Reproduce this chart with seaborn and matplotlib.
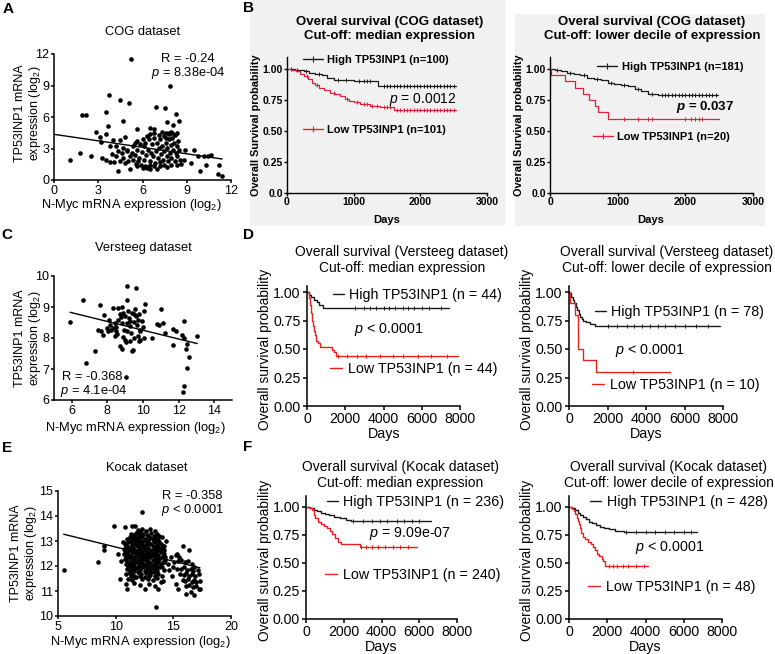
import numpy as np
import pandas as pd
import matplotlib
matplotlib.use("Agg")
import matplotlib.pyplot as plt
import seaborn as sns
from matplotlib.lines import Line2D
from matplotlib.legend import Legend
from matplotlib.patches import Rectangle

# ---------------- data: scatter panels ----------------
cog_x = [5.22, 7.85, 3.71, 4.47, 5.1, 6.9, 7.53, 1.9, 2.17, 3.5, 4.65, 8.24, 3.69, 2.86, 3.14, 3.5, 5.66, 6.53,
         6.8, 7.63, 8.1, 8.49, 7.56, 7.79, 8.0, 3.21, 4.0, 4.47, 4.81, 3.78, 4.2, 4.97, 1.79, 2.52, 1.08, 3.25,
         3.55, 3.78, 4.05, 4.35, 5.15, 4.81, 5.66, 6.3, 6.53, 8.86, 9.5, 9.73, 9.27, 9.91, 10.33, 10.19, 10.47,
         10.65, 11.22, 11.1, 11.38, 8.36, 8.63, 8.8,
         4.92, 5.27, 5.5, 5.61, 5.79, 5.95, 6.07, 6.11, 6.25, 6.34, 6.41, 6.48, 6.57, 6.64, 6.71, 6.76, 6.87,
         6.94, 6.98, 7.03, 7.1, 7.17, 7.21, 7.26, 7.33, 7.4, 7.44, 7.49, 7.56, 7.63, 7.67, 7.72, 7.79, 7.85,
         7.9, 7.95, 8.01, 8.08, 8.13, 8.18, 8.24, 8.31, 8.36, 8.43, 8.47, 8.54, 5.38, 5.56, 5.72, 5.89, 6.02,
         6.18, 6.34, 6.53, 6.76, 6.98, 7.21, 7.44, 7.67, 7.9, 5.15, 5.04, 5.34, 5.5, 5.66, 5.84, 6.02, 6.18,
         6.3, 6.53, 6.8, 7.1, 7.33, 7.56, 7.79, 7.95, 8.18, 8.36, 4.58, 4.69, 4.47, 4.65, 4.19, 4.35, 3.96]
cog_y = [11.5, 8.94, 8.06, 7.58, 7.35, 7.0, 6.84, 6.23, 6.19, 6.45, 5.65, 6.29, 5.1, 4.58, 4.13, 4.35, 4.9, 4.94,
         4.9, 5.48, 5.2, 5.65, 4.5, 4.35, 4.45, 3.6, 3.8, 3.77, 4.13, 3.2, 3.2, 2.84, 2.58, 2.26, 1.94, 2.1,
         1.94, 1.68, 1.68, 0.9, 1.03, 1.61, 1.29, 1.13, 1.45, 2.84, 2.84, 2.26, 1.61, 0.9, 1.45, 2.32, 2.32,
         2.42, 1.45, 0.55, 0.39, 1.45, 1.55, 1.94,
         2.74, 2.58, 2.42, 2.9, 2.1, 2.65, 3.23, 1.94, 2.42, 2.9, 3.87, 1.77, 2.58, 3.39, 2.26, 4.03, 1.61,
         2.74, 3.55, 2.1, 3.06, 1.29, 3.87, 2.52, 3.23, 1.94, 4.19, 2.74, 3.55, 2.26, 3.06, 1.77, 3.87, 2.58,
         3.29, 2.1, 4.03, 2.9, 3.55, 1.77, 2.58, 3.23, 2.26, 3.71, 2.9, 1.94, 1.94, 1.55, 1.77, 1.45, 1.13,
         1.35, 1.23, 1.03, 1.29, 1.03, 1.68, 1.45, 1.23, 1.45, 2.26, 1.77, 3.23, 3.55, 3.71, 3.39, 3.87, 3.55,
         4.19, 4.35, 4.45, 4.26, 4.58, 4.03, 4.45, 4.58, 4.26, 4.45, 2.58, 2.1, 1.77, 3.06, 2.26, 2.74, 2.52]
cog_fit_x = [0.0, 11.4]
cog_fit_y = [4.35, 2.0]

versteeg_x = [5.89, 6.61, 6.8, 7.28, 7.56, 7.79, 7.47, 7.66, 7.75, 7.98, 8.1, 8.17, 8.04, 8.23, 8.32, 8.42, 8.48,
              8.51, 8.61, 8.7, 8.74, 8.8, 8.61, 8.8, 8.86, 8.93, 8.99, 9.05, 9.12, 9.18, 9.12, 9.62, 8.99, 9.24,
              9.28, 9.31, 9.37, 9.43, 9.47, 9.5, 9.56, 9.62, 9.66, 9.7, 9.75, 9.81, 9.7, 9.85, 9.94, 10.0, 10.08,
              10.13, 10.04, 10.51, 10.8, 10.9, 10.99, 11.14, 11.22, 11.66, 11.85, 11.71, 12.19, 12.29, 12.32,
              12.48, 12.42, 12.61, 12.48, 12.29, 12.23, 13.03, 9.05, 8.7, 8.84, 8.29, 8.42, 8.55, 9.28, 9.09,
              9.37, 8.9, 9.75, 9.47, 9.28, 9.81, 9.09]
versteeg_y = [8.52, 9.22, 7.19, 7.57, 9.05, 8.74, 8.27, 8.22, 8.11, 8.32, 8.57, 8.43, 8.22, 8.25, 8.97, 8.49, 8.36,
              8.22, 8.97, 8.79, 8.68, 9.01, 8.59, 8.49, 8.03, 8.27, 7.95, 7.86, 9.24, 8.86, 9.68, 9.62, 8.7, 8.65,
              8.38, 8.16, 7.57, 7.62, 8.76, 8.51, 8.94, 8.7, 8.43, 8.08, 7.89, 8.22, 8.59, 8.27, 8.54, 8.36, 8.86,
              9.11, 8.0, 8.0, 8.45, 8.43, 8.94, 8.49, 8.16, 8.29, 8.21, 7.78, 8.11, 8.56, 8.0,
              7.82, 7.65, 7.38, 7.03, 6.45, 6.27, 8.08, 6.74, 7.73, 7.64, 8.32, 8.05, 8.14, 8.54, 8.49,
              8.81, 8.81, 8.76, 8.0, 7.89, 7.95, 8.22]
versteeg_fit_x = [5.9, 13.05]
versteeg_fit_y = [8.83, 7.82]

kocak_xy = [
    (11.9, 13.45), (12.3, 13.5), (12.6, 13.42), (13.0, 13.48), (13.4, 13.4), (12.1, 13.38),
    (11.3, 13.3), (11.6, 13.25), (11.8, 13.32), (12.0, 13.28), (12.4, 13.3), (12.7, 13.25), (13.1, 13.32),
    (13.3, 13.22), (13.6, 13.3), (13.8, 13.2),
    (11.5, 13.2), (11.9, 13.18), (12.3, 13.2), (12.9, 13.18), (13.4, 13.2),
    (11.0, 13.1), (11.2, 13.15), (11.5, 13.08), (11.7, 13.12), (11.9, 13.05), (12.2, 13.15), (12.5, 13.1),
    (12.8, 13.05), (13.0, 13.12), (13.2, 13.08), (13.5, 13.1), (13.7, 13.05), (14.0, 13.15),
    (11.3, 13.0), (11.7, 12.98), (12.1, 13.0), (12.4, 13.02), (12.7, 12.98), (13.3, 13.0), (13.8, 12.98),
    (10.8, 12.9), (11.1, 12.95), (11.4, 12.88), (11.6, 12.92), (11.8, 12.85), (12.0, 12.95), (12.3, 12.9),
    (12.6, 12.85), (12.9, 12.92), (13.1, 12.88), (13.4, 12.95), (13.6, 12.85), (13.9, 12.9), (14.1, 12.82),
    (11.0, 12.8), (11.3, 12.78), (11.9, 12.8), (12.1, 12.82), (12.4, 12.78), (12.7, 12.8), (13.2, 12.82),
    (13.7, 12.78), (14.2, 12.8),
    (10.7, 12.7), (10.9, 12.75), (11.2, 12.68), (11.5, 12.72), (11.7, 12.65), (12.0, 12.7), (12.2, 12.75),
    (12.5, 12.68), (12.8, 12.72), (13.0, 12.65), (13.3, 12.7), (13.5, 12.75), (13.8, 12.68), (14.0, 12.72),
    (14.2, 12.65),
    (10.8, 12.6), (11.1, 12.62), (11.4, 12.58), (11.9, 12.6), (12.3, 12.62), (12.7, 12.58), (13.1, 12.6),
    (13.6, 12.62), (14.1, 12.58),
    (10.7, 12.5), (11.0, 12.52), (11.3, 12.45), (11.5, 12.55), (11.8, 12.48), (12.1, 12.52), (12.4, 12.45),
    (12.6, 12.55), (12.9, 12.5), (13.2, 12.48), (13.4, 12.52), (13.7, 12.45), (13.9, 12.55), (14.2, 12.48),
    (10.9, 12.4), (11.2, 12.42), (11.7, 12.38), (12.0, 12.4), (12.5, 12.42), (12.8, 12.38), (13.3, 12.4),
    (13.6, 12.42), (14.3, 12.38),
    (10.8, 12.3), (11.1, 12.35), (11.3, 12.28), (11.6, 12.32), (11.9, 12.25), (12.2, 12.35), (12.4, 12.3),
    (12.7, 12.28), (13.0, 12.35), (13.2, 12.25), (13.5, 12.32), (13.8, 12.28), (14.0, 12.35), (14.3, 12.25),
    (11.0, 12.2), (11.5, 12.22), (11.8, 12.18), (12.1, 12.2), (12.6, 12.22), (12.9, 12.18), (13.4, 12.2),
    (13.7, 12.22), (14.2, 12.18),
    (10.9, 12.1), (11.2, 12.12), (11.4, 12.05), (11.7, 12.15), (12.0, 12.08), (12.3, 12.12), (12.5, 12.05),
    (12.8, 12.15), (13.1, 12.1), (13.3, 12.05), (13.6, 12.12), (13.9, 12.08), (14.1, 12.15),
    (11.1, 12.0), (11.6, 12.02), (11.9, 11.98), (12.2, 12.0), (12.7, 12.02), (13.0, 11.98), (13.5, 12.0),
    (14.0, 11.98),
    (11.0, 11.9), (11.3, 11.95), (11.5, 11.88), (11.8, 11.92), (12.1, 11.85), (12.4, 11.95), (12.7, 11.9),
    (12.9, 11.85), (13.2, 11.92), (13.5, 11.88), (13.8, 11.95), (14.2, 11.85),
    (11.2, 11.8), (11.6, 11.82), (12.0, 11.78), (12.5, 11.8), (12.8, 11.82), (13.1, 11.78), (13.6, 11.8),
    (10.9, 11.7), (11.2, 11.72), (11.5, 11.65), (11.9, 11.75), (12.2, 11.68), (12.6, 11.72), (13.0, 11.65),
    (13.3, 11.75), (13.7, 11.7), (14.0, 11.62),
    (11.3, 11.6), (11.7, 11.58), (12.1, 11.62), (12.5, 11.58), (12.9, 11.6), (13.4, 11.62),
    (11.1, 11.5), (11.4, 11.45), (11.8, 11.55), (12.3, 11.48), (12.8, 11.5), (13.2, 11.45), (13.6, 11.52),
    (14.1, 11.4),
    (10.9, 11.3), (11.6, 11.32), (12.1, 11.25), (12.9, 11.3), (13.4, 11.22), (13.9, 11.35),
    (5.5, 11.85), (8.5, 12.15), (9.0, 12.8), (9.0, 12.65), (9.85, 13.6), (10.2, 12.5), (10.85, 13.55),
    (11.4, 13.6), (11.65, 13.6), (12.3, 14.15), (13.5, 10.38), (10.4, 11.5), (10.6, 12.95), (10.5, 12.2),
    (11.0, 11.1), (12.5, 11.1), (13.7, 11.1), (14.5, 12.1), (14.6, 11.85), (14.4, 13.0),
    (14.8, 12.35), (15.2, 12.45), (15.5, 12.35), (15.8, 12.8), (16.4, 12.65), (15.1, 12.15), (15.4, 12.2),
    (15.7, 12.25), (16.0, 12.15), (16.3, 12.2), (16.6, 12.1), (15.0, 11.95), (15.3, 11.9), (15.9, 11.95),
    (16.2, 11.85), (16.5, 11.9), (16.8, 11.95), (17.1, 11.85), (15.6, 11.7), (15.9, 11.65), (16.1, 11.72),
    (16.4, 11.6), (16.6, 11.7), (16.9, 11.62), (17.2, 11.68), (15.8, 11.45), (16.0, 11.4), (16.3, 11.48),
    (16.6, 11.38), (16.8, 11.45), (17.0, 11.35), (17.3, 11.42), (16.1, 11.2), (16.4, 11.25), (16.7, 11.15),
    (17.0, 11.2), (17.2, 11.1), (15.4, 11.07), (16.1, 10.87), (16.8, 10.83), (17.35, 11.07), (16.5, 10.95),
    (15.7, 11.9), (16.7, 11.8), (15.3, 12.5), (14.9, 11.6), (15.2, 11.3),
]
kocak_fit_x = [5.5, 17.3]
kocak_fit_y = [13.27, 11.93]

# ---------------- data: survival curves (event times, survival after event) ----------------
b1_high_t = [0, 120, 250, 330, 420, 520, 600, 700, 1000, 1370]
b1_high_s = [1.0, 0.99, 0.98, 0.97, 0.96, 0.95, 0.93, 0.91, 0.90, 0.86]
b1_high_end = 2530
b1_high_cens = [60, 150, 280, 480, 760, 880, 1080, 1150, 1200, 1250, 1450, 1500, 1550, 1600, 1650, 1700,
                1750, 1800, 1850, 1900, 1950, 2000, 2050, 2100, 2150, 2200, 2250, 2300, 2350, 2400, 2450, 2500]
b1_low_t = [0, 60, 130, 200, 260, 320, 370, 420, 480, 560, 640, 720, 800, 870, 930, 1000, 1100, 1250, 1400, 1600]
b1_low_s = [1.0, 0.99, 0.98, 0.96, 0.94, 0.92, 0.89, 0.87, 0.85, 0.83, 0.81, 0.80, 0.78, 0.76, 0.74, 0.73,
            0.72, 0.70, 0.69, 0.67]
b1_low_end = 2530
b1_low_cens = [300, 450, 700, 900, 1050, 1150, 1200, 1280, 1350, 1450, 1500, 1550, 1650, 1700, 1750, 1800,
               1850, 1900, 1950, 2000, 2050, 2100, 2150, 2200, 2250, 2300, 2350, 2400, 2450, 2500]

b2_high_t = [0, 80, 160, 250, 350, 450, 550, 650, 750, 850, 950, 1050, 1150, 1250, 1350, 1450, 1600]
b2_high_s = [1.0, 0.99, 0.98, 0.97, 0.96, 0.95, 0.93, 0.92, 0.91, 0.89, 0.88, 0.87, 0.86, 0.84, 0.82, 0.80, 0.79]
b2_high_end = 2480
b2_high_cens = [100, 300, 500, 700, 900, 1100, 1300, 1500, 1650, 1700, 1750, 1800, 1850, 1900, 1950, 2000,
                2050, 2100, 2150, 2200, 2250, 2300, 2350, 2400, 2450]
b2_low_t = [0, 10, 220, 370, 490, 570, 665, 715, 860]
b2_low_s = [1.0, 0.95, 0.90, 0.85, 0.80, 0.75, 0.70, 0.65, 0.60]
b2_low_end = 2500
b2_low_cens = [1100, 1300, 1450, 1500, 2000, 2080, 2150, 2200, 2250]

d1_high_t = [0, 100, 200, 350, 500, 650, 850]
d1_high_s = [1.0, 0.977, 0.955, 0.932, 0.909, 0.886, 0.864]
d1_high_end = 7450
d1_high_cens = [2500, 3000, 3300, 3600, 4000, 4300, 4600, 5000, 5300, 5600, 6000, 6400, 7000]
d1_low_t = [0, 80, 150, 200, 250, 300, 350, 400, 470, 560, 680, 1290, 1400, 1500]
d1_low_s = [1.0, 0.95, 0.89, 0.82, 0.75, 0.70, 0.66, 0.62, 0.57, 0.55, 0.52, 0.49, 0.47, 0.44]
d1_low_end = 7900
d1_low_cens = [1600, 2100, 2600, 3100, 3800, 4500, 5000, 5800, 6500, 7300]

d2_high_t = [0, 50, 120, 200, 280, 350, 420, 500, 580, 660, 750, 900, 1100, 1350]
d2_high_s = [1.0, 0.99, 0.96, 0.93, 0.90, 0.87, 0.84, 0.81, 0.78, 0.76, 0.75, 0.74, 0.72, 0.70]
d2_high_end = 7840
d2_high_cens = [2000, 2500, 3000, 3400, 3800, 4200, 4600, 5000, 5500, 6000, 6600, 7200]
d2_low_t = [0, 60, 300, 450, 460, 740, 1400]
d2_low_s = [1.0, 0.9, 0.8, 0.6, 0.5, 0.4, 0.3]
d2_low_end = 5250
d2_low_cens = [3300]

f1_high_t = [0, 200, 400, 600, 800, 1000, 1200, 1500, 1800, 2100, 2400]
f1_high_s = [1.0, 0.99, 0.975, 0.96, 0.95, 0.94, 0.93, 0.915, 0.90, 0.885, 0.875]
f1_high_end = 6600
f1_high_cens = [2500, 3000, 3500, 3900, 4300, 4800, 5200, 5600, 6000]
f1_low_t = [0, 150, 300, 400, 500, 650, 800, 950, 1100, 1250, 1400, 1550, 1700, 1850, 2850]
f1_low_s = [1.0, 0.99, 0.97, 0.93, 0.90, 0.87, 0.85, 0.83, 0.81, 0.79, 0.76, 0.72, 0.69, 0.67, 0.645]
f1_low_end = 5860
f1_low_cens = [2900, 3200, 3500, 3800, 4200, 4600, 5000, 5400]

f2_high_t = [0, 150, 300, 450, 600, 750, 900, 1050, 1200, 1400, 1600, 1850, 2100, 2400, 2850]
f2_high_s = [1.0, 0.99, 0.97, 0.95, 0.93, 0.91, 0.89, 0.87, 0.855, 0.84, 0.825, 0.81, 0.80, 0.79, 0.78]
f2_high_end = 6680
f2_high_cens = [3000, 3500, 4000, 4500, 5000, 5500, 6000, 6400]
f2_low_t = [0, 150, 250, 330, 400, 450, 500, 560, 640, 720, 850, 1000, 1150, 1280, 1350, 1450, 1550, 1700,
            1800, 1880]
f2_low_s = [1.0, 0.98, 0.96, 0.94, 0.90, 0.875, 0.85, 0.81, 0.77, 0.73, 0.71, 0.69, 0.67, 0.645, 0.62, 0.58,
            0.56, 0.54, 0.52, 0.47]
f2_low_end = 4150
f2_low_cens = [2100, 2300, 2500, 2800, 3100, 3500, 3900]

# ---------------- style ----------------
sns.set_theme(style="ticks")
plt.rcParams["font.family"] = ["Liberation Sans", "DejaVu Sans"]
plt.rcParams.update({
    "mathtext.fontset": "custom",
    "mathtext.rm": "Liberation Sans",
    "mathtext.it": "Liberation Sans:italic",
    "mathtext.bf": "Liberation Sans:bold",
    "mathtext.default": "regular",
    "axes.edgecolor": "black",
    "xtick.color": "black",
    "ytick.color": "black",
    "text.color": "black",
})
try:
    plt.rcParams["mathtext.bfit"] = "Liberation Sans:bold:italic"
    PB = r"$\mathbfit{p}$"
except KeyError:
    PB = r"$\mathit{p}$"

RED_B = "#e0203c"
RED = "#e8201e"
BLK = "#1a1a1a"

W, H = 775, 654
fig = plt.figure(figsize=(W / 100, H / 100), dpi=100)


def rect(l, t, r, b):
    return [l / W, 1 - b / H, (r - l) / W, (b - t) / H]


def ftext(x, y, s, **kw):
    kw.setdefault("ha", "center")
    kw.setdefault("va", "center")
    return fig.text(x / W, 1 - y / H, s, **kw)


# grey backgrounds of panel B
fig.add_artist(Rectangle((250 / W, 1 - 226 / H), 255 / W, 226 / H, transform=fig.transFigure,
                         facecolor="#f1f1f1", edgecolor="none", zorder=-5))
fig.add_artist(Rectangle((515 / W, 1 - 226 / H), 250 / W, 212 / H, transform=fig.transFigure,
                         facecolor="#f1f1f1", edgecolor="none", zorder=-5))


def style_axes(ax, fs, bold=False, lw=1.1, tl=3, pad=1.5):
    ax.set_facecolor("none")
    for sp in ["top", "right"]:
        ax.spines[sp].set_visible(False)
    for sp in ["left", "bottom"]:
        ax.spines[sp].set_linewidth(lw)
        ax.spines[sp].set_color("black")
    ax.tick_params(labelsize=fs, length=tl, width=lw, pad=pad, direction="out")
    if bold:
        for lab in ax.get_xticklabels() + ax.get_yticklabels():
            lab.set_fontweight("bold")
    ax.set_xlabel("")
    ax.set_ylabel("")


def scatter_panel(r, xs, ys, fx, fy, xlim, ylim, xticks, yticks):
    ax = fig.add_axes(rect(*r))
    df = pd.DataFrame({"x": xs, "y": ys})
    sns.scatterplot(data=df, x="x", y="y", ax=ax, s=11, color="black", linewidth=0, legend=False,
                    clip_on=False, zorder=3)
    ax.plot(fx, fy, color="black", lw=1.0, zorder=4)
    ax.set_xlim(xlim)
    ax.set_ylim(ylim)
    ax.set_xticks(xticks)
    ax.set_yticks(yticks)
    style_axes(ax, 9.0, tl=2.5, pad=1.0)
    return ax


def two_line_ylabel(xc1, xc2, yc):
    ftext(xc1, yc, "TP53INP1 mRNA", fontsize=9.0, rotation=90)
    ftext(xc2, yc, "expression (log$_2$)", fontsize=9.0, rotation=90)


# ---------------- A ----------------
scatter_panel((54, 54, 231, 180), cog_x, cog_y, cog_fit_x, cog_fit_y, (0, 12), (0, 12),
              [0, 3, 6, 9, 12], [0, 3, 6, 9, 12])
ftext(143, 32, "COG dataset", fontsize=9.3)
ftext(188, 59, "R = -0.24", fontsize=9.3)
ftext(188, 73, r"$\mathit{p}$ = 8.38e-04", fontsize=9.3)
two_line_ylabel(20.5, 35, 113)
ftext(131, 205, "N-Myc mRNA expression (log$_2$)", fontsize=9.3)

# ---------------- C ----------------
scatter_panel((54, 276, 232, 400), versteeg_x, versteeg_y, versteeg_fit_x, versteeg_fit_y, (5, 15), (6, 10),
              [6, 8, 10, 12, 14], [6, 7, 8, 9, 10])
ftext(143, 248, "Versteeg dataset", fontsize=9.3)
ftext(62, 377, "R = -0.368", fontsize=9.3, ha="left")
ftext(60, 391, r"$\mathit{p}$ = 4.1e-04", fontsize=9.3, ha="left")
two_line_ylabel(20.5, 35, 338)
ftext(135, 428, "N-Myc mRNA expression (log$_2$)", fontsize=9.3)

# ---------------- E ----------------
kx = [p[0] for p in kocak_xy]
ky = [p[1] for p in kocak_xy]
scatter_panel((58, 491, 231, 616), kx, ky, kocak_fit_x, kocak_fit_y, (5, 20), (10, 15),
              [5, 10, 15, 20], [10, 11, 12, 13, 14, 15])
ftext(147, 468, "Kocak dataset", fontsize=9.3)
ftext(192, 496, "R = -0.358", fontsize=9.3)
ftext(192, 510, r"$\mathit{p}$ < 0.0001", fontsize=9.3)
two_line_ylabel(16.5, 31, 553)
ftext(140, 642, "N-Myc mRNA expression (log$_2$)", fontsize=9.3)


# ---------------- survival helpers ----------------
def km(ax, t, s, t_end, cens, color, lw, tick_ms):
    df = pd.DataFrame({"t": list(t) + [t_end], "s": list(s) + [s[-1]]})
    sns.lineplot(data=df, x="t", y="s", ax=ax, drawstyle="steps-post", estimator=None, sort=False,
                 color=color, lw=lw, legend=False)
    idx = np.searchsorted(np.asarray(t), np.asarray(cens), side="right") - 1
    cy = np.asarray(s)[idx]
    ax.plot(cens, cy, ls="none", marker="|", ms=tick_ms, mew=0.7, color=color)


def surv_axes(r, xmax, xticks, ytop, ylabs):
    ax = fig.add_axes(rect(*r))
    ax.set_xlim(0, xmax)
    ax.set_ylim(0, ytop)
    ax.set_xticks(xticks)
    ax.set_xticklabels([str(v) for v in xticks])
    ax.set_yticks([0, 0.25, 0.5, 0.75, 1.0])
    ax.set_yticklabels(ylabs)
    return ax


def add_leg(ax, label, color, x, y, fs, bold, hl, tick):
    h = Line2D([], [], color=color, lw=1.0, marker="|" if tick else None, ms=4, mew=0.8)
    leg = Legend(ax, [h], [label], loc="center left", bbox_to_anchor=(x, y), frameon=False,
                 borderpad=0, borderaxespad=0, handlelength=hl, handletextpad=0.4, numpoints=1,
                 prop={"size": fs, "weight": "bold" if bold else "normal"})
    ax.add_artist(leg)


YB = ["0.0", "0.25", "0.50", "0.75", "1.00"]
YD = ["0.00", "0.25", "0.50", "0.75", "1.00"]

# ---------------- B (left) ----------------
ax = surv_axes((287, 56.6, 487, 193), 3000, [0, 1000, 2000, 3000], 1.1, YB)
km(ax, b1_high_t, b1_high_s, b1_high_end, b1_high_cens, BLK, 0.9, 3.5)
km(ax, b1_low_t, b1_low_s, b1_low_end, b1_low_cens, RED_B, 0.9, 3.5)
style_axes(ax, 7.5, bold=True, lw=1.0, tl=2.5, pad=0.6)
add_leg(ax, "High TP53INP1 (n=100)", BLK, 0.08, 0.975, 8, True, 1.8, True)
add_leg(ax, "Low TP53INP1 (n=101)", RED_B, 0.08, 0.46, 8, True, 1.8, True)
ftext(423, 100, r"$\mathit{p}$ = 0.0012", fontsize=10)
ftext(390, 22, "Overal survival (COG dataset)", fontsize=9.5, fontweight="bold")
ftext(390, 36, "Cut-off: median expression", fontsize=9.5, fontweight="bold")
ftext(256, 125, "Overall Survival probability", fontsize=7.8, fontweight="bold", rotation=90)
ftext(387, 220, "Days", fontsize=8, fontweight="bold")

# ---------------- B (right) ----------------
ax = surv_axes((550, 56.6, 753, 193), 3000, [0, 1000, 2000, 3000], 1.1, YB)
km(ax, b2_high_t, b2_high_s, b2_high_end, b2_high_cens, BLK, 0.9, 3.5)
km(ax, b2_low_t, b2_low_s, b2_low_end, b2_low_cens, RED_B, 0.9, 3.5)
style_axes(ax, 7.5, bold=True, lw=1.0, tl=2.5, pad=0.6)
add_leg(ax, "High TP53INP1 (n=181)", BLK, 0.232, 0.924, 8, True, 1.8, True)
add_leg(ax, "Low TP53INP1 (n=20)", RED_B, 0.212, 0.41, 8, True, 1.8, True)
ftext(705, 107, PB + " = 0.037", fontsize=9.5, fontweight="bold")
ftext(652, 22, "Overal survival (COG dataset)", fontsize=9.5, fontweight="bold")
ftext(652, 36, "Cut-off: lower decile of expression", fontsize=9.5, fontweight="bold")
ftext(519, 125, "Overall Survival probability", fontsize=7.8, fontweight="bold", rotation=90)
ftext(651, 220, "Days", fontsize=8, fontweight="bold")


def df_panel(r, ytop, curves, legs, ptxt, pxy, t1, t2, tx, ty, ylx, dx, dy):
    ax = surv_axes(r, 8000, [0, 2000, 4000, 6000, 8000], ytop, YD)
    for c in curves:
        km(ax, *c)
    style_axes(ax, 10.2, lw=1.1)
    for lg in legs:
        add_leg(ax, *lg)
    ftext(pxy[0], pxy[1], ptxt, fontsize=10.3)
    ftext(tx, ty, t1, fontsize=10)
    ftext(tx, ty + 16, t2, fontsize=10)
    ftext(ylx, (r[1] + r[3]) / 2 + 3, "Overall survival probability", fontsize=9.9, rotation=90)
    ftext(dx, dy, "Days", fontsize=10.3)


# ---------------- D ----------------
df_panel((307, 286.3, 460, 406), 1.05,
         [(d1_high_t, d1_high_s, d1_high_end, d1_high_cens, BLK, 1.0, 2.5),
          (d1_low_t, d1_low_s, d1_low_end, d1_low_cens, RED, 1.0, 2.5)],
         [("High TP53INP1 (n = 44)", BLK, 0.17, 0.927, 10.3, False, 0.75, False),
          ("Low TP53INP1 (n = 44)", RED, 0.15, 0.309, 10.3, False, 0.85, False)],
         r"$\mathit{p}$ < 0.0001", (389, 330),
         "Overall survival (Versteeg dataset)", "Cut-off: median expression", 402, 252, 265, 384, 434)
df_panel((569, 286.3, 723, 406), 1.05,
         [(d2_high_t, d2_high_s, d2_high_end, d2_high_cens, BLK, 1.0, 2.5),
          (d2_low_t, d2_low_s, d2_low_end, d2_low_cens, RED, 1.0, 2.5)],
         [("High TP53INP1 (n = 78)", BLK, 0.169, 0.785, 10.3, False, 0.75, False),
          ("Low TP53INP1 (n = 10)", RED, 0.149, 0.175, 10.3, False, 0.85, False)],
         r"$\mathit{p}$ < 0.0001", (650, 350),
         "Overall survival (Versteeg dataset)", "Cut-off: lower decile of expression", 667, 252, 527, 646, 434)

# ---------------- F ----------------
df_panel((306, 495.8, 457, 619), 1.1,
         [(f1_high_t, f1_high_s, f1_high_end, f1_high_cens, BLK, 1.0, 2.5),
          (f1_low_t, f1_low_s, f1_low_end, f1_low_cens, RED, 1.0, 2.5)],
         [("High TP53INP1 (n = 236)", BLK, 0.139, 0.95, 10.3, False, 0.75, False),
          ("Low TP53INP1 (n = 240)", RED, 0.126, 0.357, 10.3, False, 0.85, False)],
         r"$\mathit{p}$ = 9.09e-07", (410, 533),
         "Overall survival (Kocak dataset)", "Cut-off: median expression", 400, 467, 265, 381, 647)
df_panel((569, 495.8, 722, 619), 1.1,
         [(f2_high_t, f2_high_s, f2_high_end, f2_high_cens, BLK, 1.0, 2.5),
          (f2_low_t, f2_low_s, f2_low_end, f2_low_cens, RED, 1.0, 2.5)],
         [("High TP53INP1 (n = 428)", BLK, 0.137, 0.95, 10.3, False, 0.8, False),
          ("Low TP53INP1 (n = 48)", RED, 0.124, 0.26, 10.3, False, 0.85, False)],
         r"$\mathit{p}$ < 0.0001", (670, 548),
         "Overall survival (Kocak dataset)", "Cut-off: lower decile of expression", 669, 467, 527, 645, 647)

# ---------------- panel letters ----------------
for lab, x, y in [("A", 8, 9), ("B", 249, 8), ("C", 7, 235), ("D", 248, 235), ("E", 7, 448), ("F", 248, 447)]:
    ftext(x, y, lab, fontsize=11, fontweight="bold")

fig.savefig("out.png", dpi=100)
